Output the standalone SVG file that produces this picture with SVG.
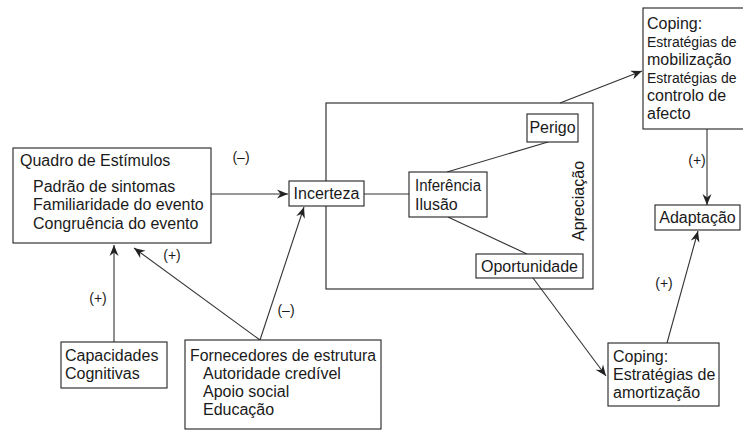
<svg xmlns="http://www.w3.org/2000/svg" width="743" height="430" viewBox="0 0 743 430">
<style>
  .box { fill: #fff; stroke: #222; stroke-width: 1.1; }
  .frame { fill: none; stroke: #222; stroke-width: 1.1; }
  .t { font-family: "Liberation Sans", Arial, sans-serif; font-size: 16px; fill: #1a1a1a; }
  .s { font-size: 14px; }
  .lbl { font-family: "Liberation Sans", Arial, sans-serif; font-size: 14px; fill: #1a1a1a; }
  .c { stroke: #333; stroke-width: 1.1; fill: none; }
  .a { marker-end: url(#arr); }
</style>
<defs>
  <marker id="arr" markerUnits="userSpaceOnUse" markerWidth="12" markerHeight="10" refX="11" refY="5" orient="auto">
    <path d="M0,0.5 L11,5 L0,9.5 L3.5,5 z" fill="#222"/>
  </marker>
</defs>
<rect width="743" height="430" fill="#fff"/>

<g id="apreciacao">
  <rect class="frame" x="326" y="103" width="267" height="186"/>
  <text class="t" transform="translate(584,201) rotate(-90)" text-anchor="middle">Apreciação</text>
</g>

<g id="connectors">
  <line class="c a" x1="211" y1="194" x2="288" y2="194"/>
  <line class="c" x1="364" y1="194" x2="409" y2="194"/>
  <line class="c" x1="447" y1="172" x2="548" y2="142"/>
  <line class="c" x1="448" y1="217" x2="527" y2="254"/>
  <line class="c a" x1="560" y1="103" x2="642" y2="71"/>
  <line class="c a" x1="707" y1="129" x2="707" y2="205"/>
  <line class="c a" x1="533" y1="278" x2="606" y2="376"/>
  <line class="c a" x1="667" y1="343" x2="698" y2="231"/>
  <line class="c a" x1="114" y1="342" x2="114" y2="245"/>
  <line class="c a" x1="260" y1="340" x2="134" y2="248"/>
  <line class="c a" x1="260" y1="340" x2="304" y2="207"/>
  <text class="lbl" x="241" y="162" text-anchor="middle">(–)</text>
  <text class="lbl" x="697" y="165" text-anchor="middle">(+)</text>
  <text class="lbl" x="664" y="288" text-anchor="middle">(+)</text>
  <text class="lbl" x="98" y="303" text-anchor="middle">(+)</text>
  <text class="lbl" x="172" y="260" text-anchor="middle">(+)</text>
  <text class="lbl" x="286" y="315" text-anchor="middle">(–)</text>
</g>

<g id="quadro">
  <rect class="box" x="13" y="148" width="198" height="95"/>
  <text class="t" x="20" y="166">Quadro de Estímulos</text>
  <text class="t" x="33" y="192">Padrão de sintomas</text>
  <text class="t" x="33" y="210">Familiaridade do evento</text>
  <text class="t" x="33" y="229">Congruência do evento</text>
</g>

<g id="incerteza">
  <rect class="box" x="289" y="181" width="75" height="25"/>
  <text class="t" x="326.5" y="199" text-anchor="middle">Incerteza</text>
</g>

<g id="inferencia">
  <rect class="box" x="409" y="172" width="78" height="45"/>
  <text class="t" x="415" y="191" textLength="66" lengthAdjust="spacingAndGlyphs">Inferência</text>
  <text class="t" x="415" y="210">Ilusão</text>
</g>

<g id="perigo">
  <rect class="box" x="527" y="114" width="51" height="28"/>
  <text class="t" x="552.5" y="133" text-anchor="middle">Perigo</text>
</g>

<g id="oportunidade">
  <rect class="box" x="476" y="254" width="107" height="24"/>
  <text class="t" x="529.5" y="272" text-anchor="middle">Oportunidade</text>
</g>

<g id="coping-mobilizacao">
  <rect class="box" x="643" y="8" width="110" height="121"/>
  <text class="t" x="647" y="29">Coping:</text>
  <text class="t s" x="647" y="47">Estratégias de</text>
  <text class="t" x="647" y="65">mobilização</text>
  <text class="t s" x="647" y="83">Estratégias de</text>
  <text class="t" x="647" y="101">controlo de</text>
  <text class="t" x="647" y="119">afecto</text>
</g>

<g id="adaptacao">
  <rect class="box" x="655" y="205" width="85" height="25"/>
  <text class="t" x="697.5" y="223" text-anchor="middle">Adaptação</text>
</g>

<g id="coping-amortizacao">
  <rect class="box" x="608" y="343" width="111" height="63"/>
  <text class="t" x="613" y="362">Coping:</text>
  <text class="t" x="613" y="380">Estratégias de</text>
  <text class="t" x="613" y="398">amortização</text>
</g>

<g id="capacidades">
  <rect class="box" x="61" y="342" width="106" height="46"/>
  <text class="t" x="65" y="361">Capacidades</text>
  <text class="t" x="65" y="379">Cognitivas</text>
</g>

<g id="fornecedores">
  <rect class="box" x="185" y="340" width="196" height="89"/>
  <text class="t" x="190" y="361" textLength="186" lengthAdjust="spacingAndGlyphs">Fornecedores de estrutura</text>
  <text class="t" x="203" y="379">Autoridade credível</text>
  <text class="t" x="203" y="397">Apoio social</text>
  <text class="t" x="203" y="415">Educação</text>
</g>
</svg>
